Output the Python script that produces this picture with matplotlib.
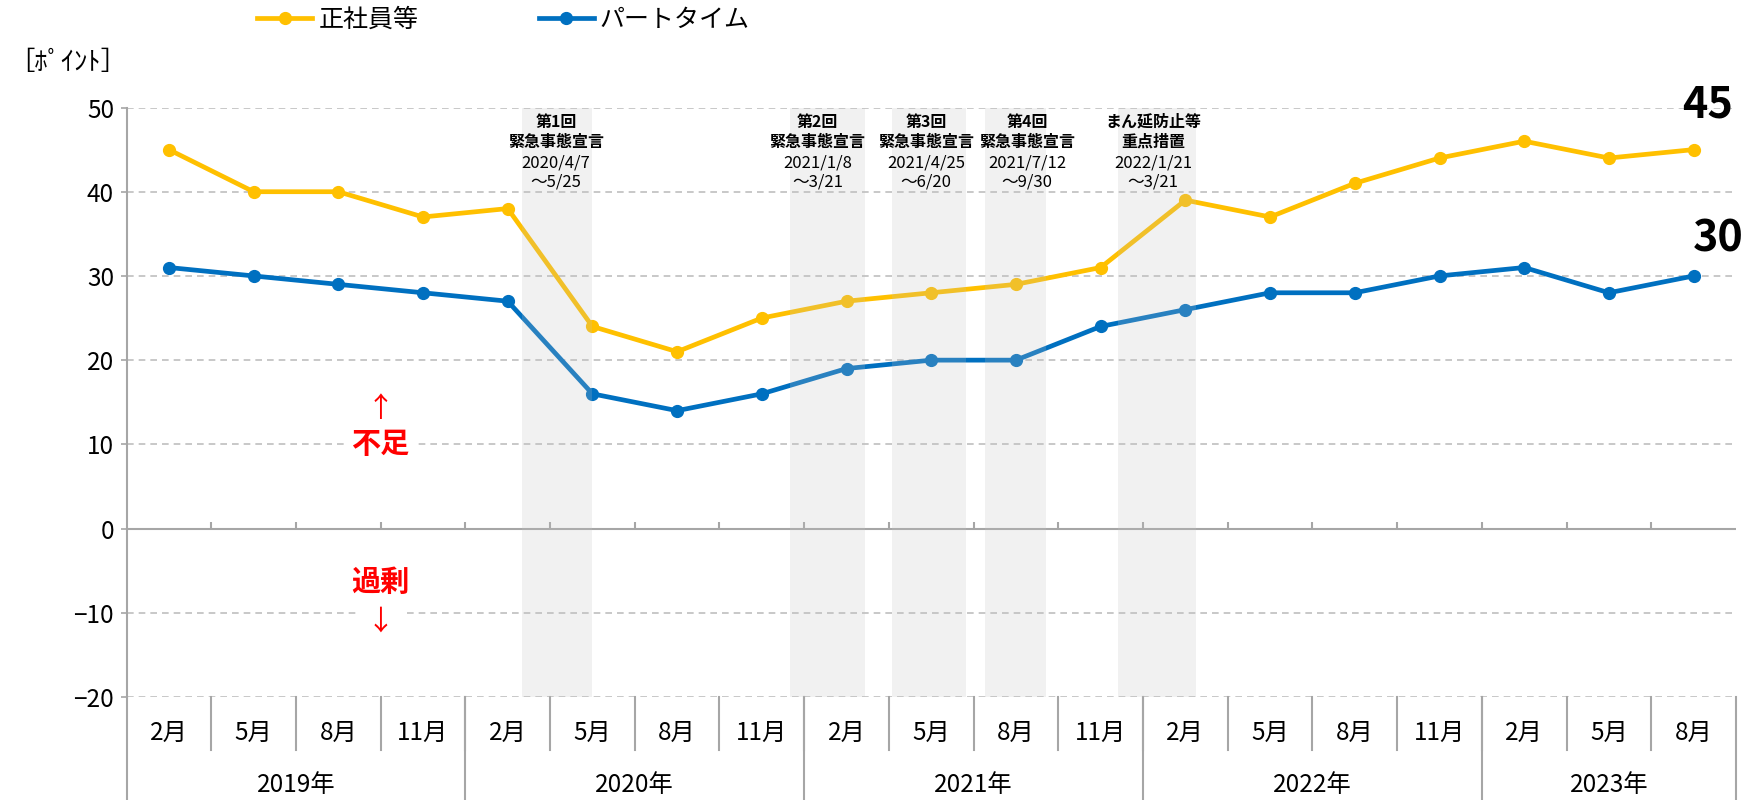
import matplotlib.pyplot as plt
import numpy as np

plt.rcParams['font.family'] = ['Noto Sans CJK JP', 'DejaVu Sans']

months = ['2月', '5月', '8月', '11月'] * 4 + ['2月', '5月', '8月']
years = ['2019年', '2020年', '2021年', '2022年', '2023年']
year_counts = [4, 4, 4, 4, 3]
seishain = [45, 40, 40, 37, 38, 24, 21, 25, 27, 28, 29, 31, 39, 37, 41, 44, 46, 44, 45]
part = [31, 30, 29, 28, 27, 16, 14, 16, 19, 20, 20, 24, 26, 28, 28, 30, 31, 28, 30]

# emergency periods in category-index units
spans = [(4.17, 5.0), (7.33, 8.22), (8.54, 9.41), (9.63, 10.36), (11.2, 12.13)]
span_x = [4.57, 7.66, 8.94, 10.13, 11.62]
span_title = ['第1回\n緊急事態宣言', '第2回\n緊急事態宣言', '第3回\n緊急事態宣言',
              '第4回\n緊急事態宣言', 'まん延防止等\n重点措置']
span_date = ['2020/4/7\n～5/25', '2021/1/8\n～3/21', '2021/4/25\n～6/20',
             '2021/7/12\n～9/30', '2022/1/21\n～3/21']

c_yel = '#FFC000'
c_blue = '#0070C0'
c_grid = '#BFBFBF'
c_axis = '#A6A6A6'

fig = plt.figure(figsize=(17.55, 8), dpi=100)
ax = fig.add_axes([126.5 / 1755, 1 - 697 / 800, (1736 - 126.5) / 1755, (697 - 107.5) / 800])

x = np.arange(len(months))
ax.set_xlim(-0.5, len(months) - 0.5)
ax.set_ylim(-20, 50)

for v in [50, 40, 30, 20, 10, -10, -20]:
    ax.axhline(v, color=c_grid, lw=1.2, ls=(0, (4, 3)), zorder=1)
ax.axhline(0, color=c_axis, lw=1.5, zorder=1)
ax.vlines(x[:-1] + 0.5, 0, 0.75, color=c_axis, lw=1.5, zorder=1)

ax.plot(x, seishain, color=c_yel, lw=3.4, marker='o', ms=8.5, zorder=3, label='正社員等')
ax.plot(x, part, color=c_blue, lw=3.4, marker='o', ms=8.5, zorder=3, label='パートタイム')

for (a, b) in spans:
    ax.axvspan(a, b, color='#C2C2C2', alpha=0.216, lw=0, zorder=4)

for sx, t, d in zip(span_x, span_title, span_date):
    t1, t2 = t.split('\n')
    d1, d2 = d.split('\n')
    ax.text(sx, 48.3, t1, ha='center', va='center', fontsize=11.5, fontweight='bold', zorder=5)
    ax.text(sx, 45.9, t2, ha='center', va='center', fontsize=11.5, fontweight='bold', zorder=5)
    ax.text(sx, 43.4, d1, ha='center', va='center', fontsize=12, zorder=5)
    ax.text(sx, 41.1, d2, ha='center', va='center', fontsize=12, zorder=5)

# end-value labels
ax.text(18.16, 50.3, str(seishain[-1]), ha='center', va='center', fontsize=31,
        fontweight='bold', zorder=5)
ax.text(18.29, 34.5, str(part[-1]), ha='center', va='center', fontsize=31,
        fontweight='bold', zorder=5)

# shortage / surplus notes
wb = dict(facecolor='white', edgecolor='none', pad=3)
ax.text(2.5, 14.2, '↑', ha='center', va='center', color='red', fontsize=20, zorder=5)
ax.text(2.5, 10, '不足', ha='center', va='center', color='red', fontsize=21,
        fontweight='bold', bbox=wb, zorder=5)
ax.text(2.5, -6.4, '過剰', ha='center', va='center', color='red', fontsize=21,
        fontweight='bold', bbox=wb, zorder=5)
ax.text(2.5, -11.0, '↓', ha='center', va='center', color='red', fontsize=20,
        bbox=dict(facecolor='white', edgecolor='none', pad=6), zorder=5)

# axes styling
for s in ['top', 'right', 'bottom']:
    ax.spines[s].set_visible(False)
ax.spines['left'].set_color(c_axis)
ax.spines['left'].set_linewidth(1.5)
ax.set_yticks([50, 40, 30, 20, 10, 0, -10, -20])
ax.set_yticklabels(['50', '40', '30', '20', '10', '0', '−10', '−20'], fontsize=17.5)
ax.tick_params(axis='y', length=4, width=1.2, color=c_axis, pad=5)
ax.set_xticks([])

# two-level category axis
tr = ax.get_xaxis_transform()
for i, m in enumerate(months):
    ax.text(i, -0.061, m, transform=tr, ha='center', va='center', fontsize=17.5, clip_on=False)
    if i > 0:
        ax.plot([i - 0.5, i - 0.5], [0, -0.09], transform=tr, color=c_axis, lw=1.5, clip_on=False)
start = 0
bounds = [-0.5]
for y, n in zip(years, year_counts):
    ax.text(start + (n - 1) / 2, -0.149, y, ha='center', va='center', transform=tr,
            fontsize=17.5, clip_on=False)
    start += n
    bounds.append(start - 0.5)
for b in bounds:
    ax.plot([b, b], [0, -0.2], transform=tr, color=c_axis, lw=1.5, clip_on=False)

fig.text(8 / 1755, 1 - 62 / 800, '［ﾎﾟｲﾝﾄ］', ha='left', va='center', fontsize=19)

handles, labels = ax.get_legend_handles_labels()
fig.legend(handles, labels, loc='center', bbox_to_anchor=(0.287, 0.975), ncol=2,
           frameon=False, handlelength=2.2, handletextpad=0.25, columnspacing=4.8,
           prop={'size': 18})

fig.savefig('out.png', dpi=100)
